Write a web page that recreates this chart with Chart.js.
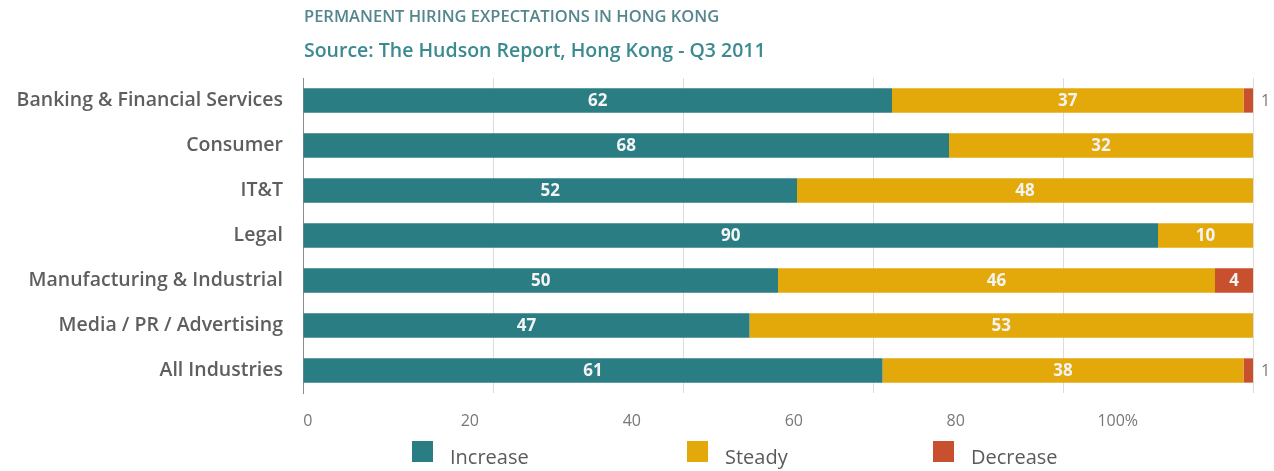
<!DOCTYPE html>
<html>
<head>
<meta charset="utf-8">
<title>Permanent Hiring Expectations in Hong Kong</title>
<script src="https://cdn.jsdelivr.net/npm/chart.js@4/dist/chart.umd.min.js"></script>
<style>
  html, body { margin: 0; padding: 0; background: #fff; }
  #wrap { position: relative; width: 1274px; height: 471px; font-family: 'Open Sans', Lato, sans-serif; }
  #chartBox { position: absolute; left: 0; top: 0; width: 1274px; height: 471px; }
  .hdr { position: absolute; left: 304px; white-space: nowrap; font-weight: 600; line-height: 1.2; }
  #title { top: 6px; font-size: 16.5px; color: #55868c; }
  #subtitle { top: 38px; font-size: 19.5px; color: #3b8a90; }
  #legend { position: absolute; left: 412px; top: 441px; display: flex; }
  .lg-item { display: flex; align-items: flex-start; }
  .lg-item:nth-child(1) { width: 275px; }
  .lg-item:nth-child(2) { width: 246px; }
  .lg-box { width: 21px; height: 21px; margin-right: 17px; }
  .lg-text { font-size: 20px; line-height: 1.2; color: #5a5a5a; margin-top: 4px; }
</style>
</head>
<body>
<div id="wrap">
  <div id="chartBox"><canvas id="hiringChart"></canvas></div>
  <div class="hdr" id="title">PERMANENT HIRING EXPECTATIONS IN HONG KONG</div>
  <div class="hdr" id="subtitle">Source: The Hudson Report, Hong Kong - Q3 2011</div>
  <div id="legend"></div>
</div>
<script>
// ===== DATA =====
const sectors = [
  'Banking & Financial Services',
  'Consumer',
  'IT&T',
  'Legal',
  'Manufacturing & Industrial',
  'Media / PR / Advertising',
  'All Industries'
];
const increasePct = [62, 68, 52, 90, 50, 47, 61];
const steadyPct   = [37, 32, 48, 10, 46, 53, 38];
const decreasePct = [1, 0, 0, 0, 4, 0, 1];
const xTickValues = [0, 20, 40, 60, 80, 100];

const COLORS = { increase: '#2b7d84', steady: '#e3a90a', decrease: '#c8502f' };

// ===== LEGEND (HTML) =====
const legendItems = [
  { label: 'Increase', color: COLORS.increase },
  { label: 'Steady', color: COLORS.steady },
  { label: 'Decrease', color: COLORS.decrease }
];
document.getElementById('legend').innerHTML = legendItems.map(it => `
  <div class="lg-item">
    <div class="lg-box" style="background:${it.color}"></div>
    <div class="lg-text">${it.label}</div>
  </div>`).join('');

// ===== VALUE LABELS PLUGIN =====
const valueLabels = {
  id: 'valueLabels',
  afterDatasetsDraw(chart) {
    const ctx = chart.ctx;
    ctx.save();
    ctx.textBaseline = 'middle';
    chart.data.datasets.forEach((ds, di) => {
      const meta = chart.getDatasetMeta(di);
      meta.data.forEach((bar, i) => {
        const v = ds.data[i];
        if (!v) return;
        const { x, y, base } = bar.getProps(['x', 'y', 'base'], true);
        if (v < 3) {
          // thin slice: label sits just past the bar end
          ctx.font = '16px "Open Sans", sans-serif';
          ctx.fillStyle = '#7a7a7a';
          ctx.textAlign = 'left';
          ctx.fillText(String(v), x + 8, y + 1);
        } else {
          ctx.font = 'bold 17px "Open Sans", sans-serif';
          ctx.fillStyle = '#f4f4f4';
          ctx.textAlign = 'center';
          ctx.fillText(String(v), (x + base) / 2, y + 1);
        }
      });
    });
    ctx.restore();
  }
};

// ===== CHART =====
new Chart(document.getElementById('hiringChart'), {
  type: 'bar',
  data: {
    labels: sectors,
    datasets: [
      { label: 'Increase', data: increasePct, backgroundColor: COLORS.increase },
      { label: 'Steady', data: steadyPct, backgroundColor: COLORS.steady },
      { label: 'Decrease', data: decreasePct, backgroundColor: COLORS.decrease }
    ]
  },
  options: {
    indexAxis: 'y',
    responsive: true,
    maintainAspectRatio: false,
    animation: false,
    datasets: { bar: { barPercentage: 0.54, categoryPercentage: 1 } },
    layout: { padding: { left: 0, right: 21, top: 78, bottom: 42 } },
    plugins: {
      legend: { display: false },
      tooltip: { enabled: false }
    },
    scales: {
      x: {
        stacked: true,
        min: 0,
        max: 100,
        ticks: { display: false, stepSize: 20 },
        grid: { color: '#dcdcdc', drawTicks: false },
        border: { display: false },
        afterFit: s => { s.height = 0; }
      },
      // label axis: its spacing runs a little tighter than the gridlines
      x2: {
        type: 'linear',
        position: 'bottom',
        min: -0.6,
        max: 116.7,
        grid: { display: false, drawTicks: false },
        border: { display: false },
        afterBuildTicks: s => { s.ticks = xTickValues.map(v => ({ value: v })); },
        ticks: {
          padding: 19,
          color: '#777',
          font: { family: '"Open Sans", sans-serif', size: 16 },
          callback: v => v === 100 ? '100%' : String(v)
        },
        afterFit: s => { s.height = 36; }
      },
      y: {
        stacked: true,
        grid: { display: false, drawTicks: false },
        border: { display: true, color: '#8c8c8c' },
        ticks: {
          padding: 20,
          color: '#5e5e5e',
          font: { family: '"Open Sans", sans-serif', size: 19.5, weight: '600' }
        },
        afterFit: s => { s.width = 303; }
      }
    }
  },
  plugins: [valueLabels]
});
</script>
</body>
</html>
